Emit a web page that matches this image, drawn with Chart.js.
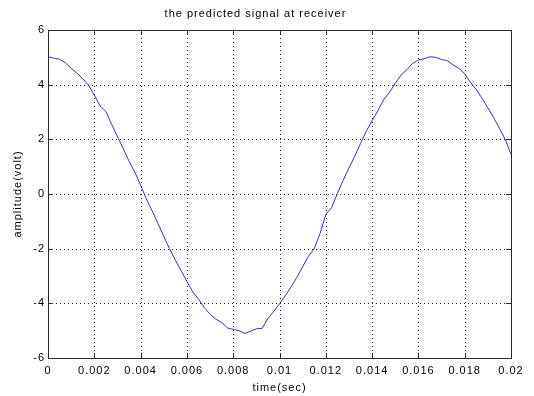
<!DOCTYPE html>
<html>
<head>
<meta charset="utf-8">
<script src="https://cdn.jsdelivr.net/npm/chart.js@4.4.0/dist/chart.umd.min.js"></script>
<style>
  html, body { margin: 0; padding: 0; background: #ffffff; }
  #wrap { width: 534px; height: 396px; position: relative; }
</style>
</head>
<body>
<div id="wrap"><canvas id="c" width="534" height="396"></canvas></div>
<script>
// time samples (sec), step 0.00025
const timeStep = 0.00025;
// amplitude (volt)
const amplitude = [
  5.02, 4.97, 4.93, 4.80, 4.60, 4.42, 4.22, 3.98, 3.62, 3.22,
  3.02, 2.55, 2.10, 1.66, 1.20, 0.80, 0.32, -0.18, -0.62, -1.08,
  -1.55, -2.00, -2.42, -2.80, -3.20, -3.58, -3.84, -4.15, -4.40, -4.58,
  -4.70, -4.90, -4.95, -5.00, -5.10, -5.02, -4.93, -4.92, -4.55, -4.30,
  -4.02, -3.72, -3.40, -3.05, -2.66, -2.28, -2.00, -1.45, -0.75, -0.50,
  0.02, 0.50, 0.95, 1.38, 1.85, 2.30, 2.68, 3.05, 3.45, 3.72,
  4.05, 4.35, 4.55, 4.78, 4.90, 4.95, 5.02, 5.00, 4.92, 4.88,
  4.72, 4.60, 4.40, 4.08, 3.82, 3.50, 3.15, 2.80, 2.40, 2.00,
  1.45
];
const timeValues = amplitude.map((_, i) => +(i * timeStep).toFixed(5));
const xTicks = [0, 0.002, 0.004, 0.006, 0.008, 0.01, 0.012, 0.014, 0.016, 0.018, 0.02];
const yTicks = [-6, -4, -2, 0, 2, 4, 6];
const titleText = 'the predicted signal at receiver';
const xLabel = 'time(sec)';
const yLabel = 'amplitude(volt)';

const FONT = 'Arial, "Liberation Sans", Helvetica, sans-serif';

function setSpacing(chart) {
  try { chart.ctx.letterSpacing = '1px'; } catch (e) {}
}

const spacingPlugin = {
  id: 'spacing',
  beforeInit: setSpacing,
  beforeUpdate: setSpacing,
  beforeLayout: setSpacing,
  beforeDraw(chart) {
    setSpacing(chart);
    const ctx = chart.ctx;
    ctx.save();
    ctx.fillStyle = '#ffffff';
    ctx.fillRect(0, 0, chart.width, chart.height);
    ctx.restore();
  }
};

const gridPlugin = {
  id: 'dottedGrid',
  beforeDatasetsDraw(chart) {
    const {ctx, chartArea: a, scales: {x, y}} = chart;
    ctx.save();
    ctx.strokeStyle = '#222222';
    ctx.lineWidth = 1;
    ctx.setLineDash([1, 3]);
    ctx.beginPath();
    xTicks.slice(1, -1).forEach(v => {
      const px = Math.round(x.getPixelForValue(v)) + 0.5;
      ctx.moveTo(px, a.top); ctx.lineTo(px, a.bottom);
    });
    yTicks.slice(1, -1).forEach(v => {
      const py = Math.round(y.getPixelForValue(v)) + 0.5;
      ctx.moveTo(a.left, py); ctx.lineTo(a.right, py);
    });
    ctx.stroke();
    ctx.restore();
  }
};

const framePlugin = {
  id: 'frame',
  afterDatasetsDraw(chart) {
    const {ctx, chartArea: a, scales: {x, y}} = chart;
    ctx.save();
    ctx.strokeStyle = '#2a2a2a';
    ctx.lineWidth = 1;
    ctx.setLineDash([]);
    ctx.strokeRect(Math.round(a.left) + 0.5, Math.round(a.top) + 0.5,
                   Math.round(a.right - a.left), Math.round(a.bottom - a.top));
    const tl = 5;
    ctx.beginPath();
    xTicks.forEach(v => {
      const px = Math.round(x.getPixelForValue(v)) + 0.5;
      ctx.moveTo(px, a.bottom); ctx.lineTo(px, a.bottom - tl);
      ctx.moveTo(px, a.top); ctx.lineTo(px, a.top + tl);
    });
    yTicks.forEach(v => {
      const py = Math.round(y.getPixelForValue(v)) + 0.5;
      ctx.moveTo(a.left, py); ctx.lineTo(a.left + tl, py);
      ctx.moveTo(a.right, py); ctx.lineTo(a.right - tl, py);
    });
    ctx.stroke();
    ctx.restore();
  }
};

new Chart(document.getElementById('c'), {
  type: 'line',
  data: {
    datasets: [{
      data: timeValues.map((t, i) => ({x: t, y: amplitude[i]})),
      borderColor: '#3535b0',
      borderWidth: 1,
      pointRadius: 0,
      tension: 0,
      fill: false
    }]
  },
  options: {
    responsive: false,
    animation: false,
    devicePixelRatio: 1,
    layout: { padding: { top: 0, right: 23, bottom: 0, left: 0 } },
    plugins: {
      legend: { display: false },
      tooltip: { enabled: false },
      title: {
        display: true,
        text: titleText,
        color: '#000000',
        font: { family: FONT, size: 11, weight: 'normal', lineHeight: 1.2 },
        padding: { top: 7.4, bottom: 9.4 }
      }
    },
    scales: {
      x: {
        type: 'linear',
        min: 0, max: 0.02,
        afterBuildTicks(scale) { scale.ticks = xTicks.map(v => ({value: v})); },
        afterFit(scale) { scale.height = 38; },
        border: { display: false },
        grid: { display: false, drawTicks: false },
        ticks: {
          color: '#000000',
          padding: 6,
          maxRotation: 0,
          autoSkip: false,
          font: { family: FONT, size: 11 },
          callback: v => String(parseFloat(Number(v).toFixed(4)))
        },
        title: {
          display: true,
          text: xLabel,
          color: '#000000',
          font: { family: FONT, size: 11, lineHeight: 1.2 },
          padding: { top: 0, bottom: 1.6 }
        }
      },
      y: {
        type: 'linear',
        min: -6, max: 6,
        afterBuildTicks(scale) { scale.ticks = yTicks.map(v => ({value: v})); },
        afterFit(scale) { scale.width = 48; },
        border: { display: false },
        grid: { display: false, drawTicks: false },
        ticks: {
          color: '#000000',
          padding: 3,
          autoSkip: false,
          font: { family: FONT, size: 11 },
          callback: v => String(v)
        },
        title: {
          display: true,
          text: yLabel,
          color: '#000000',
          font: { family: FONT, size: 11, lineHeight: 1.2 },
          padding: { top: 11, bottom: 0 }
        }
      }
    }
  },
  plugins: [spacingPlugin, gridPlugin, framePlugin]
});
</script>
</body>
</html>
